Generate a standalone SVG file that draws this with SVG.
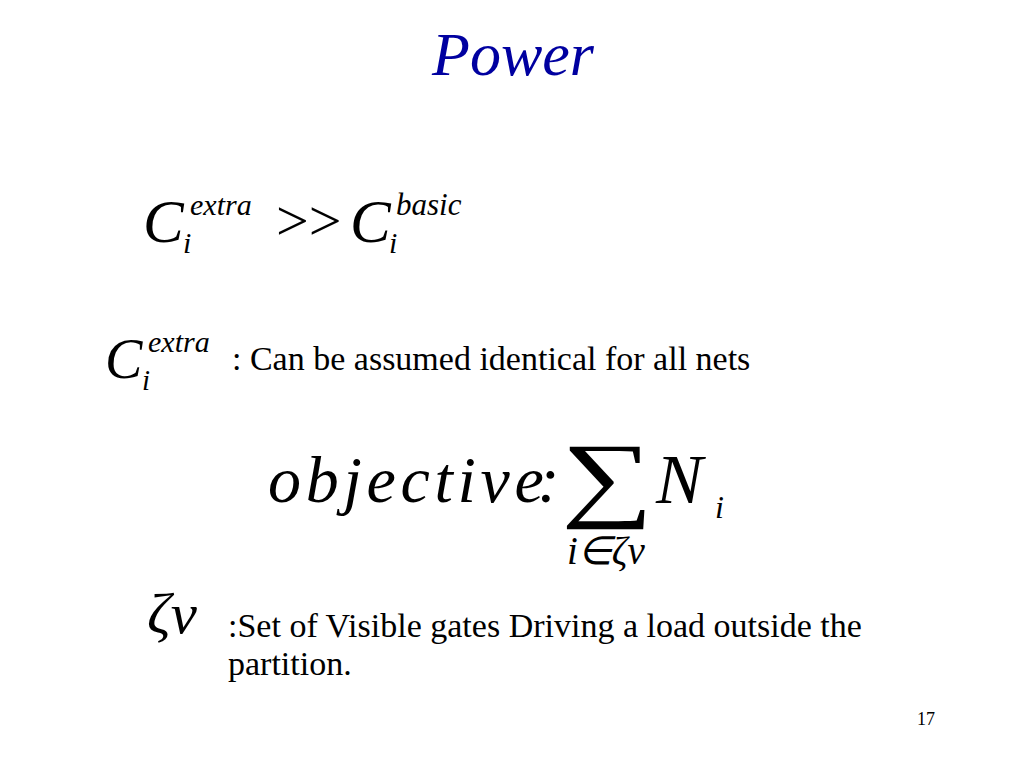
<svg xmlns="http://www.w3.org/2000/svg" width="1024" height="768" viewBox="0 0 1024 768">
<style>
.s{font-family:"Liberation Serif","Times New Roman",serif;fill:#000}
.i{font-style:italic}
</style>
<rect width="1024" height="768" fill="#fff"/>
<g id="title">
<text x="513" y="75" text-anchor="middle" class="s i" font-size="62" style="fill:#0000A0">Power</text>
</g>
<g id="eq1">
<text x="143" y="242" class="s i" font-size="61">C</text>
<text x="190" y="215" class="s i" font-size="30">extra</text>
<text x="183" y="253" class="s i" font-size="30">i</text>
<text x="276" y="240" class="s" font-size="58">&gt;&gt;</text>
<text x="350" y="242" class="s i" font-size="61">C</text>
<text x="396" y="215" class="s i" font-size="31">basic</text>
<text x="389" y="253" class="s i" font-size="30">i</text>
</g>
<g id="eq2">
<text x="105" y="378" class="s i" font-size="56">C</text>
<text x="148" y="352" class="s i" font-size="30">extra</text>
<text x="142" y="390" class="s i" font-size="29">i</text>
<text x="232" y="370" class="s" font-size="34">: Can be assumed identical for all nets</text>
</g>
<g id="eq3">
<text x="268" y="502" class="s i" font-size="66" letter-spacing="4.7">objective<tspan dx="-11" letter-spacing="0">:</tspan></text>
<text transform="translate(561,509) scale(1.44,1.06)" class="s" font-size="90">∑</text>
<text x="656" y="503" class="s i" font-size="70">N</text>
<text x="715" y="518" class="s i" font-size="32">i</text>
<text x="567" y="564" class="s i" font-size="39">i∈ζv</text>
</g>
<g id="eq4">
<text x="147" y="633" class="s i" font-size="56" textLength="50" lengthAdjust="spacingAndGlyphs">ζv</text>
<text x="228" y="637" class="s" font-size="34">:Set of Visible gates Driving a load outside the</text>
<text x="228" y="675" class="s" font-size="34">partition.</text>
</g>
<text x="917" y="725" class="s" font-size="18">17</text>
</svg>
